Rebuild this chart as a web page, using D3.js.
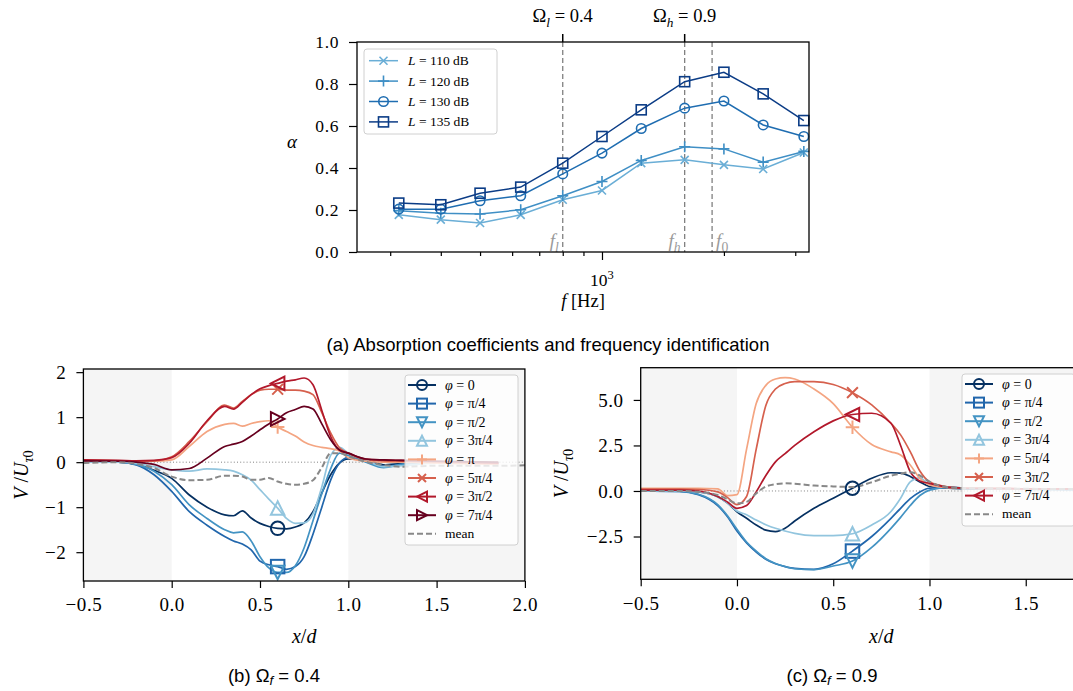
<!DOCTYPE html>
<html>
<head>
<meta charset="utf-8">
<script src="https://cdn.jsdelivr.net/npm/d3@7"></script>
<style>
  body { margin: 0; background: #fff; }
</style>
</head>
<body>
<svg id="fig" width="1073" height="691"></svg>
<script>
// ---------- (a) absorption coefficient vs frequency ----------
const freqHz = [315, 400, 500, 630, 800, 1000, 1250, 1600, 2000, 2500, 3150];
const alpha110 = [0.177, 0.154, 0.138, 0.177, 0.249, 0.293, 0.423, 0.439, 0.415, 0.395, 0.474];
const alpha120 = [0.197, 0.185, 0.181, 0.201, 0.268, 0.336, 0.436, 0.501, 0.491, 0.428, 0.479];
const alpha130 = [0.204, 0.204, 0.244, 0.268, 0.372, 0.471, 0.588, 0.685, 0.719, 0.605, 0.550];
const alpha135 = [0.233, 0.225, 0.280, 0.309, 0.423, 0.550, 0.677, 0.811, 0.856, 0.753, 0.626];
const levelLabels = ["110", "120", "130", "135"];
const markFreqs = [800, 1600, 1870];     // f_l, f_h, f_0
const markSubs = ["l", "h", "0"];
const omegaFreqs = [800, 1600];
const omegaSubs = ["l", "h"];
const omegaVals = ["0.4", "0.9"];
const yTicksA = [0, 0.2, 0.4, 0.6, 0.8, 1.0];
const minorTicksA = [300, 400, 500, 600, 700, 800, 900, 2000, 3000];

// ---------- (b) Omega_f = 0.4 ----------
const xB = [-0.5, -0.3, -0.2, -0.1, 0, 0.1, 0.2, 0.3, 0.35, 0.4, 0.45, 0.5, 0.55, 0.6, 0.65, 0.7, 0.75, 0.8, 0.85, 0.9, 0.95, 1.0, 1.1, 1.2, 1.3, 1.5, 1.85];
const vB0 = [0, 0, -0.05, -0.18, -0.36, -0.73, -1.0, -1.17, -1.19, -1.08, -1.24, -1.36, -1.43, -1.47, -1.48, -1.44, -1.35, -1.1, -0.68, -0.28, -0.02, 0.07, 0.05, -0.06, -0.03, 0, -0.02];
const vB1 = [0, 0, -0.06, -0.28, -0.65, -1.1, -1.4, -1.65, -1.75, -1.82, -1.95, -2.2, -2.28, -2.32, -2.38, -2.32, -2.1, -1.6, -1.0, -0.4, -0.02, 0.1, 0.05, -0.1, -0.05, 0, -0.03];
const vB2 = [0, 0, -0.05, -0.2, -0.5, -0.95, -1.25, -1.5, -1.57, -1.55, -1.75, -2.1, -2.35, -2.45, -2.45, -2.3, -1.9, -1.3, -0.7, -0.15, 0.2, 0.15, 0.0, -0.12, -0.05, 0, -0.03];
const vB3 = [0, 0, -0.03, -0.1, -0.17, -0.2, -0.15, -0.17, -0.2, -0.28, -0.4, -0.61, -0.82, -1.02, -1.25, -1.36, -1.35, -1.15, -0.55, 0.15, 0.33, 0.2, 0.05, -0.1, -0.08, -0.02, -0.03];
const vB4 = [0.04, 0.03, 0.02, 0.02, 0.05, 0.35, 0.68, 0.84, 0.86, 0.8, 0.86, 0.9, 0.92, 0.78, 0.68, 0.58, 0.45, 0.37, 0.33, 0.3, 0.25, 0.1, 0.02, 0, 0, -0.02, -0.05];
const vB5 = [0.04, 0.03, 0.02, 0.03, 0.12, 0.46, 0.9, 1.27, 1.2, 1.35, 1.5, 1.6, 1.62, 1.62, 1.6, 1.6, 1.58, 1.5, 1.1, 0.65, 0.32, 0.2, 0.06, 0.03, 0.02, 0, -0.03];
const vB6 = [0.05, 0.04, 0.03, 0.04, 0.1, 0.42, 0.92, 1.24, 1.18, 1.33, 1.5, 1.63, 1.7, 1.75, 1.8, 1.83, 1.87, 1.72, 1.15, 0.57, 0.27, 0.2, 0.07, 0.05, 0.04, 0.02, -0.02];
const vB7 = [0.03, 0.02, 0, -0.05, -0.17, -0.14, 0.09, 0.35, 0.4, 0.46, 0.58, 0.72, 0.85, 0.96, 1.1, 1.17, 1.24, 1.18, 0.85, 0.5, 0.27, 0.2, 0.07, 0.05, 0.04, 0.02, 0];
const xMeanB = [-0.5, -0.3, -0.2, -0.1, 0, 0.1, 0.2, 0.3, 0.35, 0.4, 0.45, 0.5, 0.55, 0.6, 0.65, 0.7, 0.75, 0.8, 0.85, 0.9, 0.95, 1.0, 1.1, 1.2, 1.3, 1.5, 1.85, 2.0];
const meanB = [-0.02, 0, -0.04, -0.13, -0.32, -0.4, -0.39, -0.3, -0.3, -0.32, -0.39, -0.39, -0.35, -0.43, -0.48, -0.5, -0.48, -0.4, -0.12, 0.2, 0.2, 0.13, 0.01, -0.06, -0.1, -0.08, -0.08, -0.07];
const phaseLabelsB = ["0", "π/4", "π/2", "3π/4", "π", "5π/4", "3π/2", "7π/4"];

// ---------- (c) Omega_f = 0.9 ----------
const xC = [-0.5, -0.3, -0.2, -0.1, -0.05, 0, 0.05, 0.1, 0.15, 0.2, 0.25, 0.3, 0.4, 0.5, 0.6, 0.7, 0.8, 0.85, 0.9, 0.95, 1.0, 1.1, 1.2, 1.5, 2.0];
const vC0 = [0, 0, -0.05, -0.31, -0.65, -1.14, -1.5, -1.87, -2.15, -2.23, -2.05, -1.65, -0.95, -0.4, 0.15, 0.7, 1.0, 0.98, 0.8, 0.5, 0.25, 0.15, 0.12, 0.1, 0.08];
const vC1 = [0, -0.02, -0.2, -0.8, -1.4, -2.2, -2.85, -3.35, -3.75, -4.0, -4.15, -4.25, -4.3, -4.0, -3.3, -2.5, -1.5, -0.95, -0.42, -0.05, 0.15, 0.2, 0.15, 0.1, 0.08];
const vC2 = [0, -0.02, -0.18, -0.75, -1.35, -2.1, -2.8, -3.3, -3.72, -3.98, -4.15, -4.27, -4.32, -4.12, -3.85, -3.1, -2.05, -1.45, -0.8, -0.25, 0.05, 0.2, 0.15, 0.1, 0.08];
const vC3 = [0, 0, -0.05, -0.31, -0.65, -1.1, -1.3, -1.6, -1.85, -2.05, -2.2, -2.33, -2.45, -2.45, -2.35, -1.87, -1.13, -0.4, 0.5, 0.72, 0.35, 0.2, 0.15, 0.1, 0.08];
const vC4 = [0.15, 0.15, 0.15, 0.12, -0.25, -0.2, 2.3, 4.8, 5.8, 6.15, 6.22, 6.15, 5.6, 4.8, 3.5, 2.55, 2.15, 1.98, 1.43, 0.7, 0.33, 0.18, 0.15, 0.12, 0.1];
const vC5 = [0.1, 0.1, 0.08, -0.05, -0.35, -0.75, -0.3, 2.3, 4.7, 5.6, 5.9, 6.0, 6.0, 5.85, 5.4, 4.73, 3.72, 3.08, 2.16, 1.1, 0.51, 0.22, 0.15, 0.12, 0.1];
const vC6 = [0.05, 0.05, 0, -0.3, -0.6, -0.95, -0.8, -0.05, 0.85, 1.6, 2.05, 2.5, 3.25, 3.85, 4.2, 4.27, 3.72, 2.5, 1.06, 0.55, 0.42, 0.2, 0.15, 0.12, 0.1];
const meanC = [0, 0, -0.05, -0.22, -0.45, -0.68, -0.6, -0.13, 0.24, 0.37, 0.42, 0.4, 0.3, 0.25, 0.22, 0.48, 0.84, 0.95, 1.03, 0.85, 0.51, 0.2, 0.15, 0.12, 0.1];
const phaseLabelsC = ["0", "π/4", "π/2", "3π/4", "5π/4", "3π/2", "7π/4"];

const xTicksB = [-0.5, 0, 0.5, 1.0, 1.5, 2.0];
const xTicksC = [-0.5, 0, 0.5, 1.0, 1.5];   // 2.0 lies outside the picture
const yTicksB = [-2, -1, 0, 1, 2];
const yTicksC = [-2.5, 0, 2.5, 5.0];

// styles
const SERIF = "'Liberation Serif', 'Times New Roman', serif";
const SANS = "'Liberation Sans', Arial, sans-serif";
const levelColors = ["#6aaed6", "#3f8fc5", "#1f6db1", "#0b3c86"];
const levelMarkers = ["x", "+", "o", "s"];
const phaseColors = ["#053061", "#2166ac", "#4393c3", "#92c5de", "#f4a582", "#d6604d", "#b2182b", "#67001f"];
const phaseMarkers = ["o", "s", "v", "^", "+", "x", "<", ">"];

const svg = d3.select("#fig");

function drawMarker(g, type, x, y, s, color, sw) {
  const h = s / 2;
  let el;
  if (type === "o") el = g.append("circle").attr("cx", x).attr("cy", y).attr("r", h);
  else if (type === "s") el = g.append("rect").attr("x", x - h).attr("y", y - h).attr("width", s).attr("height", s);
  else if (type === "+") el = g.append("path").attr("d", `M${x - h},${y}H${x + h}M${x},${y - h}V${y + h}`);
  else if (type === "x") el = g.append("path").attr("d", `M${x - h * 0.8},${y - h * 0.8}L${x + h * 0.8},${y + h * 0.8}M${x - h * 0.8},${y + h * 0.8}L${x + h * 0.8},${y - h * 0.8}`);
  else {
    const tri = { "^": [[0, -1], [-1, 1], [1, 1]], "v": [[0, 1], [-1, -1], [1, -1]],
                  "<": [[-1, 0], [1, -1], [1, 1]], ">": [[1, 0], [-1, -1], [-1, 1]] }[type];
    el = g.append("path").attr("d", "M" + tri.map(p => (x + p[0] * h) + "," + (y + p[1] * h)).join("L") + "Z");
  }
  el.attr("fill", "none").attr("stroke", color).attr("stroke-width", sw).attr("stroke-linejoin", "miter");
}

// text with subscripts: parts = [[text, italic, sub]]
function richText(g, x, y, parts, size, anchor, font, subShift) {
  const sh = size * (subShift || 0.25);
  const t = g.append("text").attr("x", x).attr("y", y).attr("font-size", size)
    .attr("text-anchor", anchor || "start").style("font-family", font || SERIF);
  let down = false;
  parts.forEach(p => {
    const ts = t.append("tspan").text(p[0]);
    if (p[1]) ts.attr("font-style", "italic");
    if (p[2] && !down) { ts.attr("dy", sh).attr("font-size", size * 0.72); down = true; }
    else if (!p[2] && down) { ts.attr("dy", -sh); down = false; }
    else if (p[2]) ts.attr("font-size", size * 0.72);
  });
  return t;
}

function styleAxis(a, size) {
  a.attr("font-size", size);
  a.select(".domain").remove();
  a.selectAll(".tick line").attr("stroke", "#000").attr("stroke-width", 1.2);
  a.selectAll(".tick text").attr("fill", "#000").style("font-family", SERIF).style("letter-spacing", "0.6px");
}

// ================= panel (a) =================
{
  const A = { l: 357, r: 809, t: 42, b: 252 };
  const x = d3.scaleLog().domain([248.4, 3244]).range([A.l, A.r]);
  const y = d3.scaleLinear().domain([0, 1]).range([A.b, A.t]);
  const g = svg.append("g");

  markFreqs.forEach((f, i) => {
    g.append("line").attr("x1", x(f)).attr("x2", x(f)).attr("y1", A.t).attr("y2", A.b)
      .attr("stroke", "#808080").attr("stroke-width", 1.3).attr("stroke-dasharray", "5,3");
    const lab = richText(g, i < 2 ? x(f) - 4 : x(f) + 4, A.b - 5,
      [["f", true, false], [markSubs[i], i < 2, true]], 19, i < 2 ? "end" : "start");
    lab.attr("fill", "#9a9a9a");
  });

  const seriesA = [alpha110, alpha120, alpha130, alpha135];
  const markerSizeA = [10, 11, 9.5, 10];
  const line = d3.line().x((d, i) => x(freqHz[i])).y(d => y(d));
  seriesA.forEach((vals, k) => {
    g.append("path").datum(vals).attr("d", line).attr("fill", "none")
      .attr("stroke", levelColors[k]).attr("stroke-width", 1.5);
    vals.forEach((v, i) => drawMarker(g, levelMarkers[k], x(freqHz[i]), y(v), markerSizeA[k], levelColors[k], 1.6));
  });

  // axes
  const ax1 = g.append("g").attr("transform", `translate(0,${A.b})`)
    .call(d3.axisBottom(x).tickValues(minorTicksA).tickSize(4).tickFormat(""));
  styleAxis(ax1, 17.5);
  const ax2 = g.append("g").attr("transform", `translate(0,${A.b})`)
    .call(d3.axisBottom(x).tickValues([1000]).tickSize(8).tickFormat(""));
  styleAxis(ax2, 17.5);
  const t103 = g.append("text").attr("x", x(1000)).attr("y", 286).attr("text-anchor", "middle")
    .attr("font-size", 17.5).style("font-family", SERIF);
  t103.append("tspan").text("10");
  t103.append("tspan").text("3").attr("dy", -7).attr("font-size", 12.5);

  const ay = g.append("g").attr("transform", `translate(${A.l},0)`)
    .call(d3.axisLeft(y).tickValues(yTicksA).tickSize(8).tickPadding(10).tickFormat(d3.format(".1f")));
  styleAxis(ay, 17.5);

  // top ticks for Omega
  omegaFreqs.forEach((f, i) => {
    g.append("line").attr("x1", x(f)).attr("x2", x(f)).attr("y1", A.t).attr("y2", A.t - 8)
      .attr("stroke", "#000").attr("stroke-width", 1.5);
    richText(g, x(f), 22, [["Ω", false, false], [omegaSubs[i], true, true], [" = " + omegaVals[i], false, false]], 18.5, "middle");
  });

  g.append("rect").attr("x", A.l).attr("y", A.t).attr("width", A.r - A.l).attr("height", A.b - A.t)
    .attr("fill", "none").attr("stroke", "#000").attr("stroke-width", 1.3);

  richText(g, (A.l + A.r) / 2, 307, [["f", true, false], ["  [Hz]", false, false]], 18.5, "middle");
  richText(g, 292, 148, [["α", true, false]], 19, "middle");

  // legend
  const lg = g.append("g");
  lg.append("rect").attr("x", 364).attr("y", 49).attr("width", 133).attr("height", 85).attr("rx", 3)
    .attr("fill", "#fff").attr("fill-opacity", 0.8).attr("stroke", "#d0d0d0");
  levelLabels.forEach((lab, k) => {
    const yy = 60.7 + k * 20.4;
    lg.append("line").attr("x1", 369).attr("x2", 398).attr("y1", yy).attr("y2", yy)
      .attr("stroke", levelColors[k]).attr("stroke-width", 1.5);
    drawMarker(lg, levelMarkers[k], 383.5, yy, markerSizeA[k], levelColors[k], 1.6);
    richText(lg, 408, yy + 4.5, [["L", true, false], [" = " + lab + " dB", false, false]], 13.5, "start");
  });

  richText(svg, 548, 351, [["(a) Absorption coefficients and frequency identification", false, false]], 18.5, "middle", SANS);
}

// ================= panels (b), (c) =================
function drawPanel(P) {
  const x = d3.scaleLinear().domain([-0.5, 2.0]).range([P.l, P.r]);
  const y = d3.scaleLinear().domain(P.yDom).range([P.b, P.t]);
  const g = svg.append("g");
  const clipId = "clip" + P.id;
  g.append("clipPath").attr("id", clipId).append("rect")
    .attr("x", P.l).attr("y", P.t).attr("width", P.r - P.l).attr("height", P.b - P.t);
  const pg = g.append("g").attr("clip-path", `url(#${clipId})`);

  pg.append("rect").attr("x", x(-0.5)).attr("y", P.t).attr("width", x(0) - x(-0.5)).attr("height", P.b - P.t).attr("fill", "#f5f5f5");
  pg.append("rect").attr("x", x(1)).attr("y", P.t).attr("width", x(2) - x(1)).attr("height", P.b - P.t).attr("fill", "#f5f5f5");
  pg.append("line").attr("x1", P.l).attr("x2", P.r).attr("y1", y(0)).attr("y2", y(0))
    .attr("stroke", "#808080").attr("stroke-width", 1).attr("stroke-dasharray", "1,2.2");

  const line = d3.line().x(d => x(d[0])).y(d => y(d[1])).curve(d3.curveMonotoneX);
  P.series.forEach((vals, k) => {
    pg.append("path").datum(P.xs.map((xv, i) => [xv, vals[i]])).attr("d", line)
      .attr("fill", "none").attr("stroke", phaseColors[k]).attr("stroke-width", 1.7);
  });
  pg.append("path").datum(P.xMean.map((xv, i) => [xv, P.mean[i]])).attr("d", line)
    .attr("fill", "none").attr("stroke", "#888").attr("stroke-width", 2).attr("stroke-dasharray", "6,3");

  const i6 = P.xs.indexOf(0.6);
  P.series.forEach((vals, k) => {
    drawMarker(pg, phaseMarkers[k], x(0.6), y(vals[i6]), 13.5, phaseColors[k], 2);
  });

  const axx = g.append("g").attr("transform", `translate(0,${P.b})`)
    .call(d3.axisBottom(x).tickValues(P.xTicks).tickSize(7).tickPadding(10).tickFormat(d3.format(".1f")));
  styleAxis(axx, 19);
  const axy = g.append("g").attr("transform", `translate(${P.l},0)`)
    .call(d3.axisLeft(y).tickValues(P.yTicks).tickSize(7).tickPadding(10).tickFormat(P.yFmt));
  styleAxis(axy, 19);

  g.append("rect").attr("x", P.l).attr("y", P.t).attr("width", P.r - P.l).attr("height", P.b - P.t)
    .attr("fill", "none").attr("stroke", "#000").attr("stroke-width", 1.3);

  // legend
  const lg = g.append("g");
  const n = P.series.length + 1;
  lg.append("rect").attr("x", P.lgx).attr("y", P.lgy).attr("width", 113).attr("height", P.lgh).attr("rx", 3)
    .attr("fill", "#fff").attr("fill-opacity", 0.8).attr("stroke", "#d0d0d0");
  for (let k = 0; k < n; k++) {
    const yy = P.lgy + 10 + k * 18.6;
    const lx0 = P.lgx + 3, lx1 = P.lgx + 31;
    if (k < P.series.length) {
      lg.append("line").attr("x1", lx0).attr("x2", lx1).attr("y1", yy).attr("y2", yy)
        .attr("stroke", phaseColors[k]).attr("stroke-width", 2);
      drawMarker(lg, phaseMarkers[k], (lx0 + lx1) / 2, yy, 10, phaseColors[k], 2);
      richText(lg, P.lgx + 40, yy + 4.5, [["φ", true, false], [" = " + P.labels[k], false, false]], 14, "start");
    } else {
      lg.append("line").attr("x1", lx0).attr("x2", lx1).attr("y1", yy).attr("y2", yy)
        .attr("stroke", "#888").attr("stroke-width", 2).attr("stroke-dasharray", "6,3");
      richText(lg, P.lgx + 40, yy + 4, [["mean", false, false]], 13.5, "start");
    }
  }

  // labels
  richText(g, (P.l + P.r) / 2, 643, [["x", true, false], ["/", false, false], ["d", true, false]], 20, "middle");
  const yl = richText(g, 0, 0, [["V", true, false], [" /", false, false], ["U", true, false], ["τ", true, true], ["0", false, true]], 20, "middle");
  yl.attr("transform", `translate(${P.ylx},${(P.t + P.b) / 2}) rotate(-90)`);
  richText(svg, P.capx, 682, [["(" + P.id + ") Ω", false, false], ["f", true, true], [" = " + P.omega, false, false]], 18.5, "middle", SANS, 0.18);
}

drawPanel({
  id: "b", l: 83.4, r: 524.9, t: 369, b: 581, yDom: [-2.64, 2.07],
  xs: xB, series: [vB0, vB1, vB2, vB3, vB4, vB5, vB6, vB7], xMean: xMeanB, mean: meanB,
  labels: phaseLabelsB, xTicks: xTicksB, yTicks: yTicksB, yFmt: d3.format("d"),
  lgx: 405, lgy: 375, lgh: 170, ylx: 28, capx: 274, omega: "0.4"
});
drawPanel({
  id: "c", l: 640.7, r: 1122, t: 367.7, b: 579.3, yDom: [-4.85, 6.77],
  xs: xC, series: [vC0, vC1, vC2, vC3, vC4, vC5, vC6], xMean: xC, mean: meanC,
  labels: phaseLabelsC, xTicks: xTicksC, yTicks: yTicksC, yFmt: d3.format(".1f"),
  lgx: 962, lgy: 374, lgh: 152, ylx: 568, capx: 832, omega: "0.9"
});
</script>
</body>
</html>
